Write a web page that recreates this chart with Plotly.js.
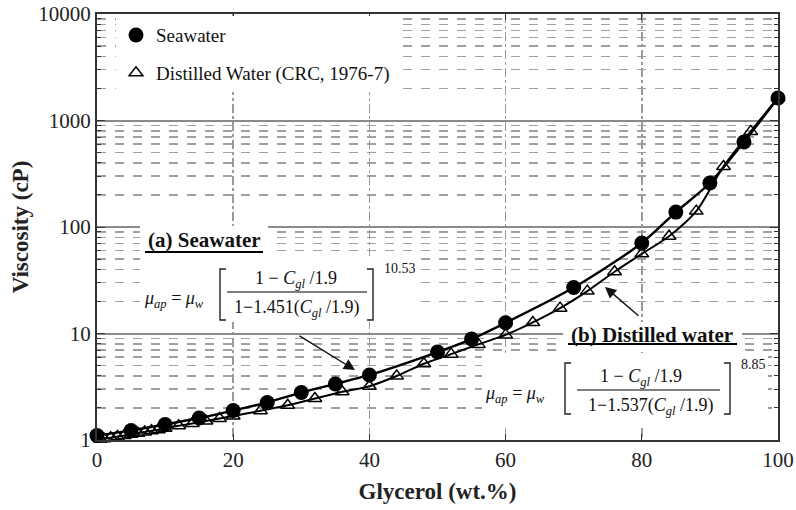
<!DOCTYPE html>
<html>
<head>
<meta charset="utf-8">
<script src="https://cdn.plot.ly/plotly-3.0.1.min.js"></script>
<style>html,body{margin:0;padding:0;background:#fff;}#chart{width:796px;height:510px;}</style>
</head>
<body>
<div id="chart"></div>
<script>
// ---- data ----
const SEA_X = [0, 5, 10, 15, 20, 25, 30, 35, 40, 50, 55, 60, 70, 80, 85, 90, 95, 100];
const SEA_V = [1.10, 1.23, 1.40, 1.61, 1.89, 2.25, 2.79, 3.36, 4.08, 6.70, 8.87, 12.6, 27.0, 70.8, 138, 259, 628, 1626];
const DIST_X = [0.5, 1, 2, 3, 4, 5, 6, 7, 8, 9, 10, 12, 14, 16, 18, 20, 24, 28, 32, 36, 40, 44, 48, 52, 56, 60, 64, 68, 72, 76, 80, 84, 88, 92, 96, 100];
const DIST_V = [1.02, 1.03, 1.05, 1.08, 1.10, 1.13, 1.16, 1.19, 1.22, 1.25, 1.29, 1.36, 1.43, 1.51, 1.59, 1.68, 1.88, 2.12, 2.45, 2.84, 3.2, 3.99, 5.2, 6.4, 7.9, 9.7, 12.7, 17.3, 25, 38, 56, 82, 141, 370, 790, 1640];
const X_TICKS = [0, 20, 40, 60, 80, 100];
const Y_TICKS = [1, 10, 100, 1000, 10000];
const Y_TICKTEXT = ['1', '10', '100', '1000', '10000'];
const SERIES_NAMES = ['Seawater', 'Distilled Water (CRC, 1976-7)'];

// plot area in pixels
const L = 97, R = 778, T = 14, B = 440;
const px = v => (v - L) / (R - L);
const py = v => (B - v) / (B - T);
const FONT = 'Liberation Serif';

const traces = [
  {x: SEA_X, y: SEA_V, mode: 'lines', line: {color: '#000', width: 2.4, shape: 'spline', smoothing: 0.8}, showlegend: false, hoverinfo: 'skip', cliponaxis: false},
  {x: DIST_X, y: DIST_V, mode: 'lines', line: {color: '#000', width: 2.0, shape: 'spline', smoothing: 0.8}, showlegend: false, hoverinfo: 'skip', cliponaxis: false},
  {x: SEA_X, y: SEA_V, mode: 'markers', name: SERIES_NAMES[0], legendgroup: 'a',
   marker: {symbol: 'circle', size: 15, color: '#000'}, cliponaxis: false},
  {x: DIST_X, y: DIST_V, mode: 'markers', name: SERIES_NAMES[1], legendgroup: 'b',
   marker: {symbol: 'triangle-up-open', size: 12, color: '#000', line: {width: 1.5, color: '#000'}}, cliponaxis: false}
];

function rect(x0, x1, y0, y1) {
  return {type: 'rect', xref: 'paper', yref: 'paper', x0: px(x0), x1: px(x1), y0: py(y1), y1: py(y0),
          fillcolor: '#fff', line: {width: 0}, layer: 'above'};
}
function hline(x0, x1, y, w) {
  return {type: 'line', xref: 'paper', yref: 'paper', x0: px(x0), x1: px(x1), y0: py(y), y1: py(y),
          line: {color: '#000', width: w}, layer: 'above'};
}
function bracket(x, y0, y1, dir) {
  // dir = 1 for "[", -1 for "]"
  const s = 6 * dir;
  const p = 'M' + px(x + s) + ',' + py(y0) + ' L' + px(x) + ',' + py(y0) + ' L' + px(x) + ',' + py(y1) + ' L' + px(x + s) + ',' + py(y1);
  return {type: 'path', xref: 'paper', yref: 'paper', path: p, line: {color: '#222', width: 1.4}, layer: 'above'};
}
function txt(text, x, y, size, xanchor) {
  return {text: text, xref: 'paper', yref: 'paper', x: px(x), y: py(y), showarrow: false,
          xanchor: xanchor || 'center', yanchor: 'middle', font: {family: FONT, size: size, color: '#111'}};
}

const shapes = [
  rect(140, 268, 226, 256),
  rect(140, 418, 256, 322),
  rect(563, 742, 322, 352),
  rect(482, 768, 354, 425),
  hline(145, 263, 252, 2),
  hline(227, 367, 292, 1.2),
  hline(568, 737, 344, 2),
  hline(577, 720, 390, 1.2),
  bracket(220, 269, 320, 1),
  bracket(373, 269, 320, -1),
  bracket(565, 363, 414, 1),
  bracket(730, 363, 414, -1)
];

const annotations = [
  txt('<b>(a) Seawater</b>', 204, 240, 21),
  txt('<i>μ</i><sub><i>ap</i></sub> = <i>μ</i><sub><i>w</i></sub>', 174, 300, 18),
  txt('1 − <i>C</i><sub><i>gl</i></sub> /1.9', 296, 279, 18),
  txt('1−1.451(<i>C</i><sub><i>gl</i></sub> /1.9)', 296, 308, 18),
  txt('10.53', 382, 268, 14, 'left'),
  txt('<b>(b) Distilled water</b>', 652, 335, 21),
  txt('<i>μ</i><sub><i>ap</i></sub> = <i>μ</i><sub><i>w</i></sub>', 515, 394, 18),
  txt('1 − <i>C</i><sub><i>gl</i></sub> /1.9', 641, 377, 18),
  txt('1−1.537(<i>C</i><sub><i>gl</i></sub> /1.9)', 650, 406, 18),
  txt('8.85', 739, 364, 14, 'left'),
  {xref: 'paper', yref: 'paper', x: px(355), y: py(370), ax: -57, ay: -35, text: '', showarrow: true,
   arrowhead: 2, arrowsize: 1.6, arrowwidth: 1.4, arrowcolor: '#111'},
  {xref: 'paper', yref: 'paper', x: px(605), y: py(287), ax: 35, ay: 30, text: '', showarrow: true,
   arrowhead: 2, arrowsize: 1.6, arrowwidth: 1.4, arrowcolor: '#111'}
];

const layout = {
  width: 796, height: 510,
  margin: {l: L, r: 796 - R, t: T, b: 510 - B},
  paper_bgcolor: '#fff', plot_bgcolor: '#fff',
  font: {family: FONT, size: 20, color: '#111'},
  showlegend: true,
  legend: {x: px(116), y: 0.995, xanchor: 'left', yanchor: 'top', bgcolor: '#fff', borderwidth: 0,
           font: {family: FONT, size: 19, color: '#111'}, traceorder: 'grouped', tracegroupgap: 10},
  xaxis: {
    range: [0, 100], tickvals: X_TICKS, ticks: 'inside', ticklen: 6, tickcolor: '#333',
    showline: true, linecolor: '#333', linewidth: 2, mirror: 'ticks',
    showgrid: true, gridcolor: '#999', gridwidth: 1.5, griddash: 'dashdot', zeroline: false,
    tickfont: {family: FONT, size: 21, color: '#222'},
    title: {text: '<b>Glycerol (wt.%)</b>', font: {family: FONT, size: 23, color: '#222'}, standoff: 12}
  },
  yaxis: {
    type: 'log', range: [0, 4], tickvals: Y_TICKS, ticktext: Y_TICKTEXT, ticks: 'inside', ticklen: 8, tickcolor: '#333',
    showline: true, linecolor: '#333', linewidth: 2, mirror: 'ticks',
    showgrid: true, gridcolor: '#8a8a8a', gridwidth: 2, zeroline: false,
    minor: {dtick: 'D1', ticks: 'inside', ticklen: 4, tickcolor: '#333', showgrid: true, gridcolor: '#a0a0a0', gridwidth: 1.5, griddash: 'dash'},
    tickfont: {family: FONT, size: 21, color: '#222'},
    title: {text: '<b>Viscosity (cP)</b>', font: {family: FONT, size: 23, color: '#222'}, standoff: 3}
  },
  shapes: shapes,
  annotations: annotations
};

Plotly.newPlot('chart', traces, layout, {staticPlot: true, displayModeBar: false});
</script>
</body>
</html>
